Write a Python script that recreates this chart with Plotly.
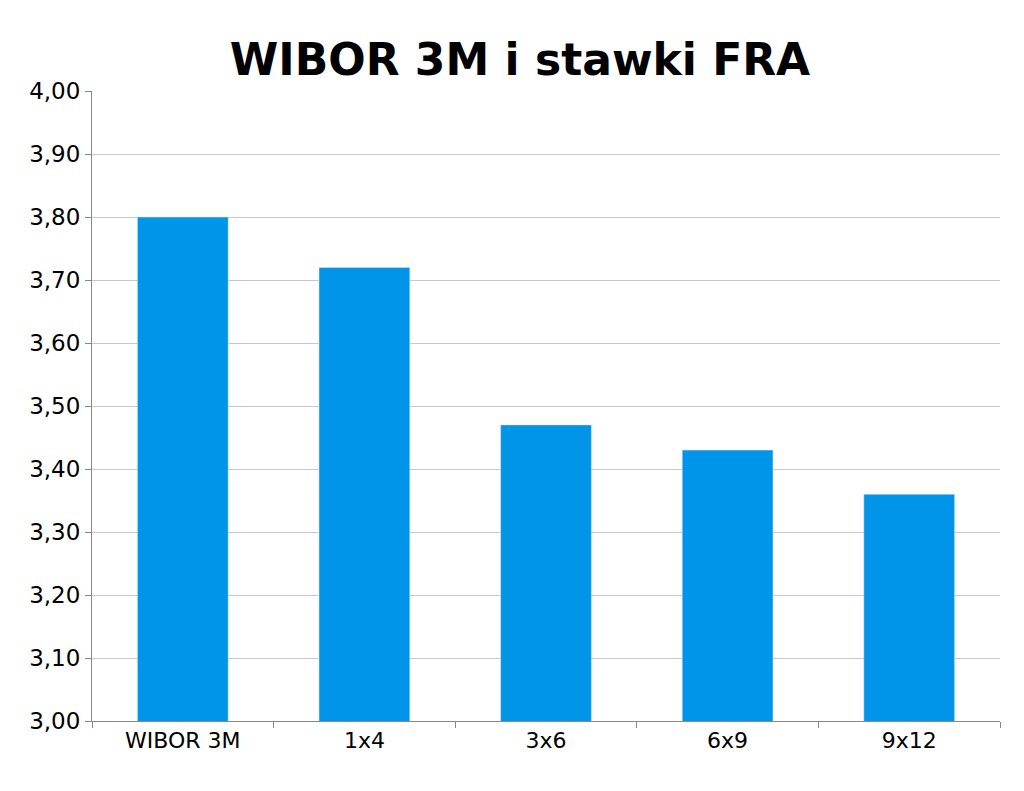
import plotly.graph_objects as go

categories = ["WIBOR 3M", "1x4", "3x6", "6x9", "9x12"]
values = [3.80, 3.72, 3.47, 3.43, 3.36]
y_ticks = [3.0 + i * 0.1 for i in range(11)]
y_labels = [f"{v:.2f}".replace(".", ",") for v in y_ticks]

fig = go.Figure(
    go.Bar(x=categories, y=values, marker=dict(color="#0095E8"), width=0.5)
)
fig.update_layout(
    title=dict(text="<b>WIBOR 3M i stawki FRA</b>", x=0.5, y=0.935, yanchor="middle",
               font=dict(family="DejaVu Sans", size=44, color="black")),
    width=1024, height=791,
    margin=dict(l=84, r=32, t=83, b=78),
    plot_bgcolor="white", paper_bgcolor="white",
    font=dict(family="DejaVu Sans", size=20, color="black"),
    showlegend=False,
)
fig.update_xaxes(showline=True, linecolor="#888", ticks="outside", tickson="boundaries",
                 ticklen=6, tickcolor="#888", tickfont=dict(size=22))
fig.update_yaxes(range=[3.0, 4.0], tickvals=y_ticks, ticktext=y_labels,
                 showline=True, linecolor="#888", ticks="outside", ticklen=6,
                 tickcolor="#888", gridcolor="#c8c8c8", tickfont=dict(size=23))
fig.write_html("out.html")
